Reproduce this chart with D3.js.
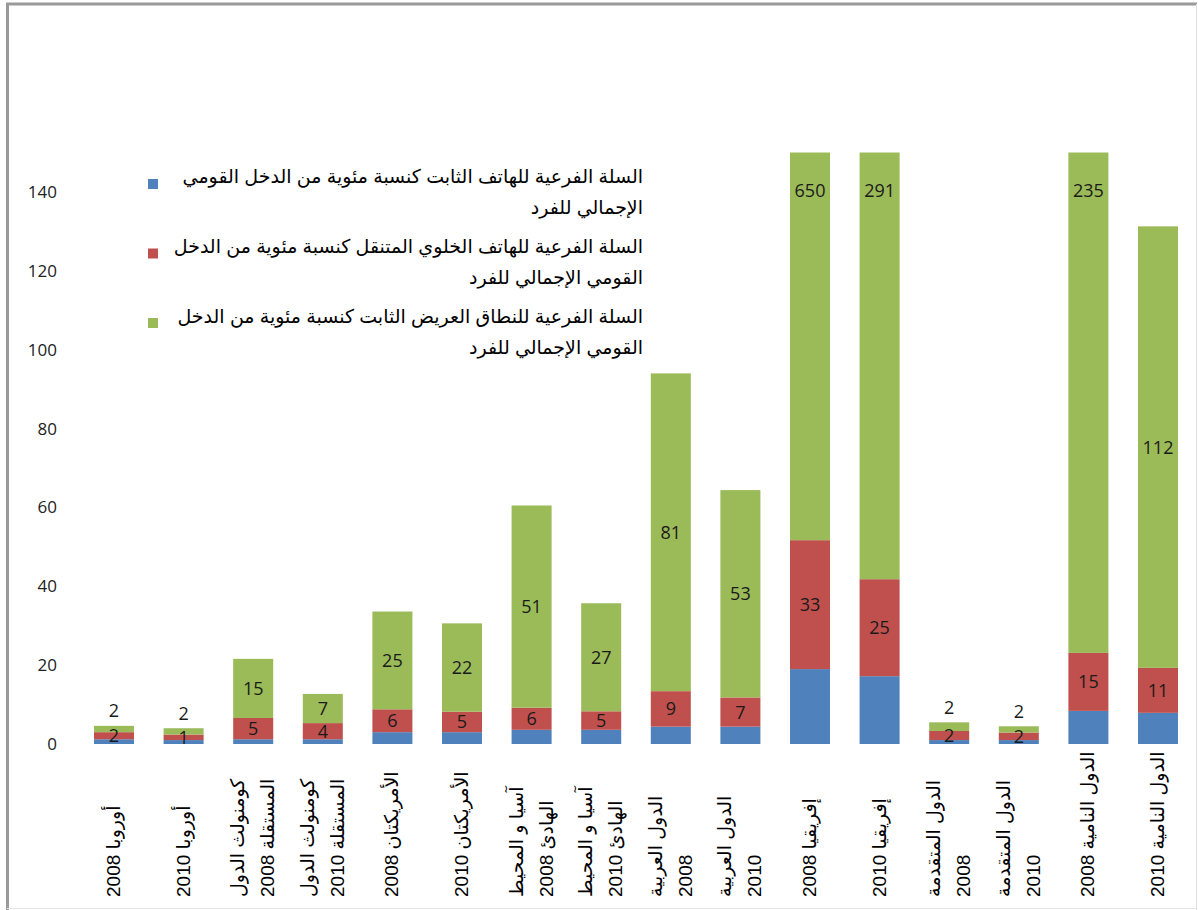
<!DOCTYPE html>
<html>
<head>
<meta charset="utf-8">
<script src="https://cdn.jsdelivr.net/npm/d3@7"></script>
<style>
  body { margin: 0; background: #fff; }
</style>
</head>
<body>
<div id="chart"></div>
<script>
// categories, wrapped the way the original axis shows them
var categoryLines = [
    ["أوروبا 2008"],
    ["أوروبا 2010"],
    ["كومنولث الدول", "المستقلة 2008"],
    ["كومنولث الدول", "المستقلة 2010"],
    ["الأمريكتان 2008"],
    ["الأمريكتان 2010"],
    ["آسيا و المحيط", "الهادئ 2008"],
    ["آسيا و المحيط", "الهادئ 2010"],
    ["الدول العربية", "2008"],
    ["الدول العربية", "2010"],
    ["إفريقيا 2008"],
    ["إفريقيا 2010"],
    ["الدول المتقدمة", "2008"],
    ["الدول المتقدمة", "2010"],
    ["الدول النامية 2008"],
    ["الدول النامية 2010"]
];
var categories = categoryLines.map(function(l) { return l.join(" "); });

// series values (percent of GNI per capita)
var fixedPhone  = [1.2, 1.0, 1.2, 1.2, 3.0, 3.0, 3.6, 3.6, 4.4, 4.4, 19.0, 17.2, 1.0, 1.0, 8.4, 7.9];
var mobilePhone = [1.8, 1.4, 5.4, 4.1, 5.8, 5.2, 5.6, 4.7, 9.0, 7.4, 32.7, 24.6, 2.3, 1.9, 14.7, 11.4];
var broadband   = [1.6, 1.6, 15.0, 7.4, 24.8, 22.4, 51.3, 27.4, 80.6, 52.6, 650, 291, 2.2, 1.6, 235, 112];

var seriesNames = [
    "السلة الفرعية للهاتف الثابت كنسبة مئوية من الدخل القومي الإجمالي للفرد",
    "السلة الفرعية للهاتف الخلوي المتنقل كنسبة مئوية من الدخل القومي الإجمالي للفرد",
    "السلة الفرعية للنطاق العريض الثابت كنسبة مئوية من الدخل القومي الإجمالي للفرد"
];
var legendLines = [
    ["السلة الفرعية للهاتف الثابت كنسبة مئوية من الدخل القومي", "الإجمالي للفرد"],
    ["السلة الفرعية للهاتف الخلوي المتنقل كنسبة مئوية من الدخل", "القومي الإجمالي للفرد"],
    ["السلة الفرعية للنطاق العريض الثابت كنسبة مئوية من الدخل", "القومي الإجمالي للفرد"]
];
var yTicks = [0, 20, 40, 60, 80, 100, 120, 140];
var yMax = 150;

var colors = ["#4f81bd", "#c0504d", "#9bbb59"];
var width = 1198, height = 910;

var svg = d3.select("#chart").append("svg")
    .attr("width", width).attr("height", height);

// outer frame
svg.append("line").attr("x1", 7.5).attr("y1", 4).attr("x2", 7.5).attr("y2", 910)
    .attr("stroke", "#9a9a9a").attr("stroke-width", 3);
svg.append("line").attr("x1", 6).attr("y1", 4).attr("x2", 1197).attr("y2", 4)
    .attr("stroke", "#9a9a9a").attr("stroke-width", 3);
svg.append("line").attr("x1", 1196.5).attr("y1", 4).attr("x2", 1196.5).attr("y2", 910)
    .attr("stroke", "#dedede").attr("stroke-width", 1);
svg.append("line").attr("x1", 7).attr("y1", 908.5).attr("x2", 1197).attr("y2", 908.5)
    .attr("stroke", "#e6e6e6").attr("stroke-width", 1);

var x = d3.scaleBand()
    .domain(categories)
    .range([79.2, 1192.8])
    .paddingInner(0.425)
    .paddingOuter(0.2125);

var y = d3.scaleLinear()
    .domain([0, yMax])
    .range([744, 152.6]);

// y axis: labels only
var yAxis = svg.append("g")
    .attr("transform", "translate(57,0)")
    .call(d3.axisLeft(y).tickValues(yTicks).tickSize(0).tickPadding(0));
yAxis.select(".domain").remove();
yAxis.selectAll("text")
    .style("font-family", "'Open Sans', sans-serif")
    .style("font-size", "17px")
    .attr("fill", "#222");

svg.append("clipPath").attr("id", "plotclip")
    .append("rect")
    .attr("x", 0).attr("y", y(yMax))
    .attr("width", width).attr("height", y(0) - y(yMax));

var table = categories.map(function(c, i) {
    return { cat: c, s0: fixedPhone[i], s1: mobilePhone[i], s2: broadband[i] };
});
var stack = d3.stack().keys(["s0", "s1", "s2"]);
var series = stack(table);

var bars = svg.append("g").attr("clip-path", "url(#plotclip)");
bars.selectAll("g")
    .data(series)
    .enter().append("g")
    .attr("fill", function(d, i) { return colors[i]; })
    .selectAll("rect")
    .data(function(d) { return d; })
    .enter().append("rect")
    .attr("x", function(d) { return x(d.data.cat); })
    .attr("width", x.bandwidth())
    .attr("y", function(d) { return y(d[1]); })
    .attr("height", function(d) { return y(d[0]) - y(d[1]); });

// data labels (mobile and broadband only)
var labels = svg.append("g")
    .style("font-family", "'Open Sans', sans-serif")
    .style("font-size", "18px")
    .attr("fill", "#1a1a1a")
    .attr("text-anchor", "middle");

[1, 2].forEach(function(k) {
    series[k].forEach(function(d, i) {
        var top = y(Math.min(d[1], yMax));
        var bot = y(d[0]);
        var cy = (top + bot) / 2;
        if (d[1] > yMax) {
            cy = y(yMax) + 38;
        } else if (k == 2 && bot - top < 15) {
            cy = top - 15;
        }
        labels.append("text")
            .attr("x", x(d.data.cat) + x.bandwidth() / 2)
            .attr("y", cy)
            .attr("dy", "0.36em")
            .text(Math.round(d.data["s" + k]));
    });
});

// x labels, rotated
var xl = svg.append("g")
    .style("font-family", "'Liberation Sans', 'DejaVu Sans', sans-serif")
    .style("font-size", "19px")
    .attr("fill", "#000");

categoryLines.forEach(function(lines, i) {
    var cx = x(categories[i]) + x.bandwidth() / 2;
    var n = lines.length;
    lines.forEach(function(line, j) {
        var off = (j - (n - 1) / 2) * 30;
        xl.append("text")
            .attr("transform", "translate(" + (cx + off + 6) + ",897) rotate(-90)")
            .attr("text-anchor", "start")
            .text(line);
    });
});

// legend
var legend = svg.append("g")
    .style("font-family", "'Liberation Sans', 'DejaVu Sans', sans-serif")
    .style("font-size", "19px")
    .attr("fill", "#000");

legendLines.forEach(function(lines, i) {
    var base = 183 + i * 70;
    legend.append("rect")
        .attr("x", 148).attr("y", base - 4 - i * 0.5)
        .attr("width", 10).attr("height", 10)
        .attr("fill", colors[i]);
    lines.forEach(function(line, j) {
        legend.append("text")
            .attr("x", 643)
            .attr("y", base + j * 31)
            .attr("text-anchor", "end")
            .text(line);
    });
});
</script>
</body>
</html>
